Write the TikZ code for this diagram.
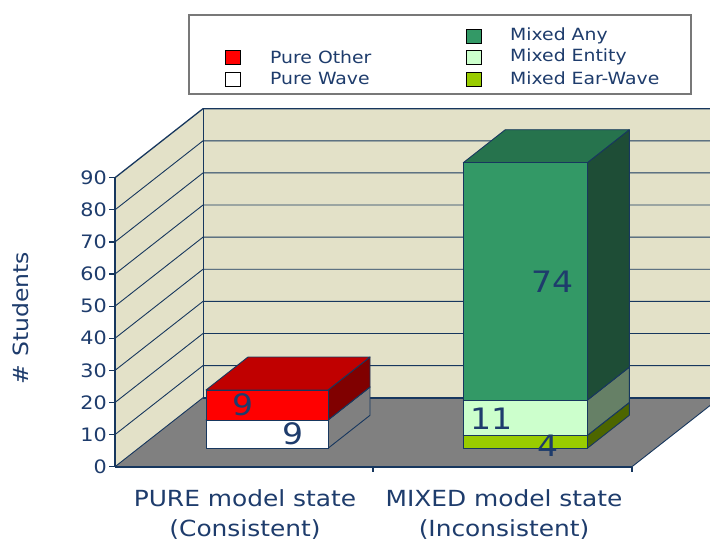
\documentclass[tikz,border=0pt]{standalone}
\usepackage{fontspec}
\setmainfont[FakeStretch=1.12]{DejaVu Sans}
\definecolor{txtblue}{RGB}{30,60,108}
\definecolor{lnblue}{RGB}{23,55,94}
\definecolor{wall}{RGB}{227,225,200}
\definecolor{floorgray}{RGB}{128,128,128}
\definecolor{legborder}{RGB}{120,120,120}
\definecolor{redfront}{RGB}{255,0,0}
\definecolor{redtop}{RGB}{192,0,0}
\definecolor{redside}{RGB}{128,0,0}
\definecolor{grfront}{RGB}{51,153,102}
\definecolor{grtop}{RGB}{38,115,77}
\definecolor{grside}{RGB}{30,77,54}
\definecolor{lgfront}{RGB}{204,255,204}
\definecolor{lgside}{RGB}{102,128,102}
\definecolor{ygfront}{RGB}{153,204,0}
\definecolor{ygside}{RGB}{77,102,0}
\tikzset{
  gridline/.style={draw=lnblue, line width=0.9pt},
  axisline/.style={draw=lnblue, line width=1.3pt},
  facestyle/.style={draw=lnblue, line width=0.9pt, line join=round},
  ticklabel/.style={text=txtblue, font=\fontsize{18.5}{20}\selectfont, anchor=east, inner sep=0pt},
  catlabel/.style={text=txtblue, font=\fontsize{22.2}{24}\selectfont, inner sep=0pt},
  datalabel/.style={text=txtblue, font=\fontsize{29.5}{32}\selectfont, inner sep=0pt},
  legtext/.style={text=txtblue, font=\fontsize{16.8}{18}\selectfont, anchor=west, inner sep=0pt},
  swatch/.style={draw=black, line width=0.8pt, minimum width=15pt, minimum height=14pt, inner sep=0pt},
}
% segment: x1, x2, ybottom, ytop, front, side, top
\newcommand{\segbox}[7]{%
  \fill[#6] (#2,#3) -- (#2+42,#3-33) -- (#2+42,#4-33) -- (#2,#4) -- cycle;
  \draw[facestyle] (#2,#3) -- (#2+42,#3-33) -- (#2+42,#4-33) -- (#2,#4) -- cycle;
  \fill[#7] (#1,#4) -- (#1+42,#4-33) -- (#2+42,#4-33) -- (#2,#4) -- cycle;
  \draw[facestyle] (#1,#4) -- (#1+42,#4-33) -- (#2+42,#4-33) -- (#2,#4) -- cycle;
  \fill[#5] (#1,#3) rectangle (#2,#4);
  \draw[facestyle] (#1,#3) rectangle (#2,#4);
}
\begin{document}
\begin{tikzpicture}[x=1pt,y=-1pt]
\useasboundingbox (0,0) rectangle (710,544);
\clip (0,0) rectangle (710,544);
\fill[white] (0,0) rectangle (710,544);
% walls
\fill[wall] (115,466.7) -- (115,177.7) -- (203,108.7) -- (203,397.7) -- cycle;
\fill[wall] (203,108.7) rectangle (720,397.7);
% grid lines
\foreach \k in {1,...,8} {
  \draw[gridline] (115,466.7-32.11*\k) -- (203,397.7-32.11*\k) -- (720,397.7-32.11*\k);
}
\draw[lnblue, line width=1.3pt] (115,177.7) -- (203,108.7) -- (720,108.7);
\draw[gridline] (203,108.7) -- (203,397.7);
% floor
\fill[floorgray] (115,466.7) -- (203,397.7) -- (720,397.7) -- (632,466.7) -- cycle;
\draw[gridline] (115,466.7) -- (203,397.7);
\draw[lnblue, line width=2pt] (203,397.7) -- (720,397.7);
\draw[gridline] (632,466.7) -- (720,397.7);
\draw[lnblue, line width=2pt] (115,466.7) -- (632,466.7);
\draw[axisline] (373,466.7) -- (373,472);
\draw[axisline] (632,466.7) -- (632,472);
% y axis
\draw[axisline] (115,466.7) -- (115,177.7);
\foreach \k in {0,...,9} {
  \draw[axisline] (109,466.7-32.11*\k) -- (115,466.7-32.11*\k);
  \pgfmathtruncatemacro{\lab}{10*\k}
  \node[ticklabel] (t\k) at (107,466.7-32.11*\k) {\lab};
}
\node[text=txtblue, font=\fontsize{21}{24}\selectfont, rotate=90, inner sep=0pt] (ytitle) at (21,318) {\# Students};
% bars
\segbox{206}{328}{448.3}{420}{white}{floorgray}{white}
\segbox{206}{328}{420}{390}{redfront}{redside}{redtop}
\segbox{463.3}{587.3}{448.3}{435.4}{ygfront}{ygside}{ygfront}
\segbox{463.3}{587.3}{435.4}{400.1}{lgfront}{lgside}{lgfront}
\segbox{463.3}{587.3}{400.1}{162.7}{grfront}{grside}{grtop}
% data labels
\node[datalabel] (v1) at (243,405) {9};
\node[datalabel] (v2) at (293,434) {9};
\node[datalabel] (v3) at (553,282) {74};
\node[datalabel] (v4) at (492,419) {11};
\node[datalabel] (v5) at (548,446) {4};
% category labels
\node[catlabel] (c1a) at (245,498) {PURE model state};
\node[catlabel] (c1b) at (245,530) {(Consistent)};
\node[catlabel] (c2a) at (504,498) {MIXED model state};
\node[catlabel] (c2b) at (504,530) {(Inconsistent)};
% legend
\draw[legborder, fill=white, line width=1.5pt] (189,15) rectangle (691,94);
\node[swatch, fill=redfront] (s1) at (233,57.5) {};
\node[swatch, fill=white] (s2) at (233,79) {};
\node[swatch, fill=grfront] (s3) at (474,36) {};
\node[swatch, fill=lgfront] (s4) at (474,57.5) {};
\node[swatch, fill=ygfront] (s5) at (474,79) {};
\node[legtext] (l1) at (270,57) {Pure Other};
\node[legtext] (l2) at (270,78.5) {Pure Wave};
\node[legtext] (l3) at (510,35.5) {Mixed Any};
\node[legtext] (l4) at (510,57) {Mixed Entity};
\node[legtext] (l5) at (510,78.5) {Mixed Ear-Wave};
\end{tikzpicture}
\end{document}
